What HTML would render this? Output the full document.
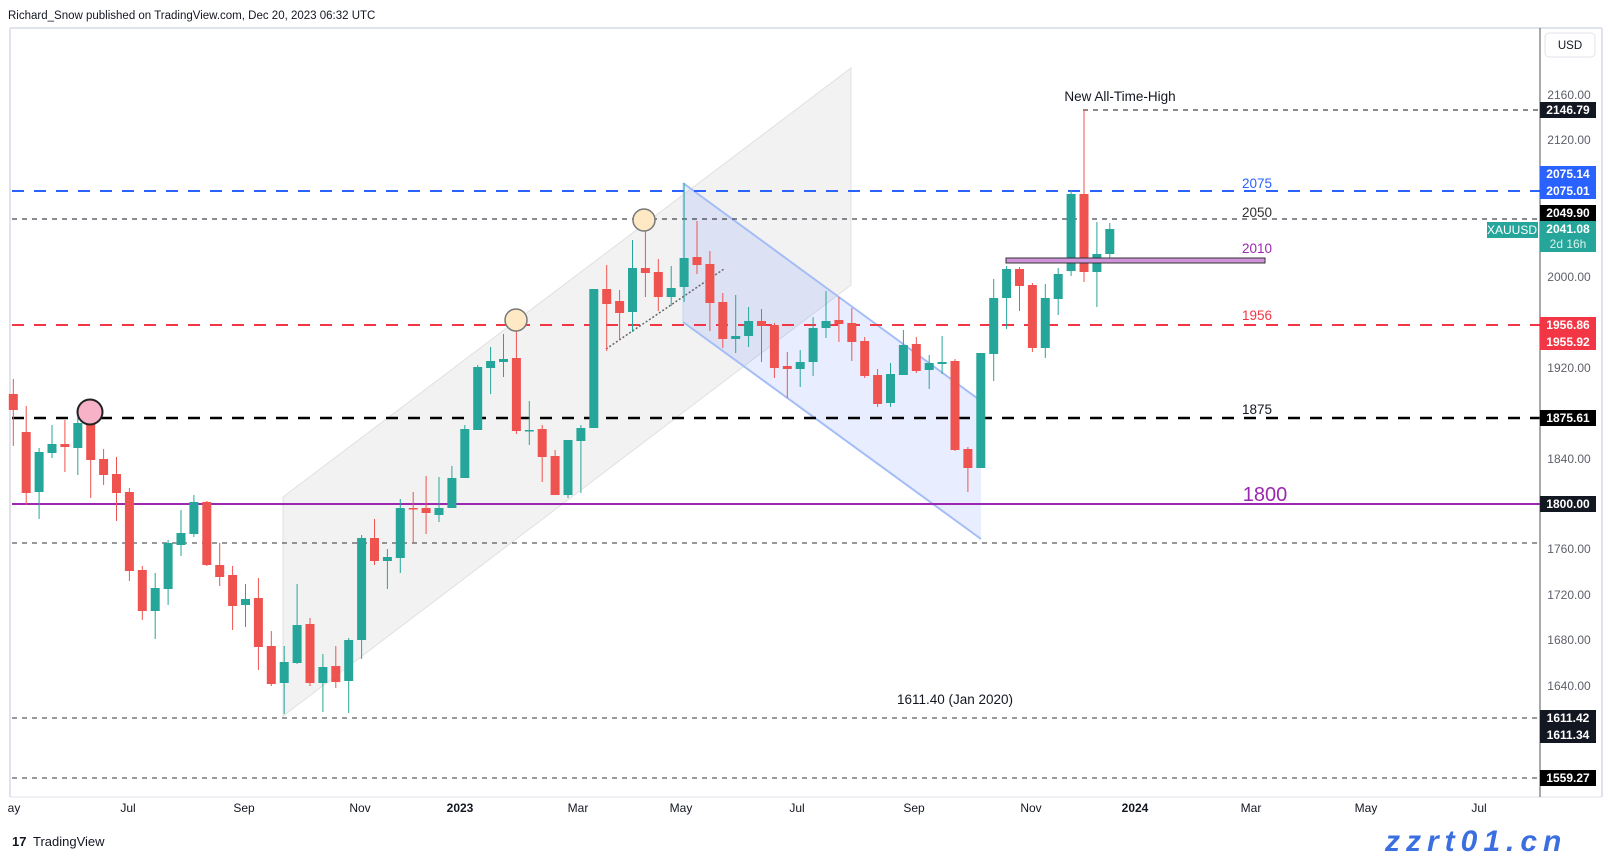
<!DOCTYPE html>
<html><head><meta charset="utf-8"><style>
html,body{margin:0;padding:0;background:#fff;}
svg{display:block;font-family:"Liberation Sans",sans-serif;}
</style></head><body>
<svg id="c" width="1610" height="857" viewBox="0 0 1610 857" xmlns="http://www.w3.org/2000/svg">
<rect width="1610" height="857" fill="#fff"/>
<text x="8" y="19" font-size="11.5" fill="#131722">Richard_Snow published on TradingView.com, Dec 20, 2023 06:32 UTC</text>
<line x1="10" y1="28" x2="1602" y2="28" stroke="#e0e3eb" stroke-width="2"/>
<line x1="10" y1="28" x2="10" y2="797" stroke="#e0e3eb" stroke-width="2"/>
<line x1="1602" y1="28" x2="1602" y2="797" stroke="#e0e3eb" stroke-width="2"/>
<line x1="10" y1="797" x2="1602" y2="797" stroke="#e0e3eb" stroke-width="1"/>
<!-- channels -->
<polygon points="283,497 851,68 851,285 283,716" fill="#f2f2f2" stroke="#e0e0e0" stroke-width="1"/>
<polygon points="683,183 981,401 981,539 683,322" fill="rgba(41,98,255,0.11)"/>
<line x1="683" y1="183" x2="981" y2="401" stroke="#a4bdf7" stroke-width="2"/>
<line x1="683" y1="322" x2="981" y2="539" stroke="#a4bdf7" stroke-width="2"/>
<line x1="683" y1="183" x2="683" y2="322" stroke="#c7d4f8" stroke-width="1"/>
<!-- levels -->
<line x1="1083" y1="110" x2="1540" y2="110" stroke="#131722" stroke-dasharray="5,5"/>
<line x1="12" y1="191" x2="1540" y2="191" stroke="#2962ff" stroke-width="2" stroke-dasharray="12,10"/>
<line x1="12" y1="219" x2="1540" y2="219" stroke="#131722" stroke-dasharray="5,5"/>
<line x1="12" y1="325" x2="1540" y2="325" stroke="#f23645" stroke-width="2" stroke-dasharray="12,10"/>
<line x1="12" y1="418" x2="1540" y2="418" stroke="#000" stroke-width="2.5" stroke-dasharray="12,10"/>
<line x1="12" y1="504" x2="1540" y2="504" stroke="#9c27b0" stroke-width="2"/>
<line x1="12" y1="543" x2="1540" y2="543" stroke="#333" stroke-dasharray="5,5"/>
<line x1="12" y1="718" x2="1540" y2="718" stroke="#333" stroke-dasharray="5,5"/>
<line x1="12" y1="778" x2="1540" y2="778" stroke="#333" stroke-dasharray="5,5"/>
<line x1="606" y1="349" x2="724" y2="269" stroke="#666" stroke-width="1.5" stroke-dasharray="2,2"/>
<g id="candles"></g>
<rect x="1006" y="258" width="259" height="5" fill="#ce93d8" stroke="#333" stroke-width="1"/>
<circle cx="90" cy="412" r="12.5" fill="#f8b2c8" stroke="#222" stroke-width="2"/>
<circle cx="516" cy="320" r="11" fill="#ffe9c4" stroke="#777" stroke-width="1.5"/>
<circle cx="644" cy="220" r="11" fill="#ffe9c4" stroke="#777" stroke-width="1.5"/>
<!-- labels -->
<text x="1120" y="101" font-size="13.5" fill="#131722" text-anchor="middle">New All-Time-High</text>
<text x="1257" y="188" font-size="13.5" fill="#2962ff" text-anchor="middle">2075</text>
<text x="1257" y="217" font-size="13.5" fill="#333" text-anchor="middle">2050</text>
<text x="1257" y="253" font-size="13.5" fill="#9c27b0" text-anchor="middle">2010</text>
<text x="1257" y="320" font-size="13.5" fill="#f23645" text-anchor="middle">1956</text>
<text x="1257" y="414" font-size="13.5" fill="#131722" text-anchor="middle">1875</text>
<text x="1265" y="501" font-size="20" fill="#9c27b0" text-anchor="middle">1800</text>
<text x="955" y="704" font-size="13.5" fill="#131722" text-anchor="middle">1611.40 (Jan 2020)</text>
<!-- price axis -->
<line x1="1540" y1="28" x2="1540" y2="797" stroke="#555" stroke-width="1"/>
<rect x="1545" y="33" width="50" height="24" rx="4" fill="#fff" stroke="#e0e3eb"/>
<text x="1570" y="49" font-size="11.5" fill="#131722" text-anchor="middle">USD</text>
<g font-size="12" fill="#5d606b" text-anchor="middle">
<text x="1569" y="99">2160.00</text><text x="1569" y="144">2120.00</text><text x="1569" y="281">2000.00</text>
<text x="1569" y="372">1920.00</text><text x="1569" y="463">1840.00</text><text x="1569" y="553">1760.00</text>
<text x="1569" y="599">1720.00</text><text x="1569" y="644">1680.00</text><text x="1569" y="690">1640.00</text>
</g>
<g font-size="12" fill="#fff" text-anchor="middle" font-weight="bold">
<rect x="1540" y="102" width="56" height="16" fill="#131722"/><text x="1568" y="114">2146.79</text>
<rect x="1540" y="166" width="56" height="33" fill="#2962ff"/><text x="1568" y="178">2075.14</text><text x="1568" y="195">2075.01</text>
<rect x="1540" y="205" width="56" height="16" fill="#000"/><text x="1568" y="217">2049.90</text>
<rect x="1540" y="221" width="56" height="31" fill="#26a69a"/><text x="1568" y="233">2041.08</text>
<text x="1568" y="248" font-weight="normal" fill="#d8f2ef">2d 16h</text>
<rect x="1487" y="222" width="51" height="16" fill="#26a69a"/><text x="1512" y="234" font-weight="normal">XAUUSD</text>
<rect x="1540" y="317" width="56" height="33" fill="#f23645"/><text x="1568" y="329">1956.86</text><text x="1568" y="346">1955.92</text>
<rect x="1540" y="410" width="56" height="16" fill="#000"/><text x="1568" y="422">1875.61</text>
<rect x="1540" y="496" width="56" height="16" fill="#131722"/><text x="1568" y="508">1800.00</text>
<rect x="1540" y="710" width="56" height="33" fill="#131722"/><text x="1568" y="722">1611.42</text><text x="1568" y="739">1611.34</text>
<rect x="1540" y="770" width="56" height="16" fill="#000"/><text x="1568" y="782">1559.27</text>
</g>
<!-- time axis -->
<g font-size="12" fill="#131722" text-anchor="middle">
<text x="14" y="812">ay</text><text x="128" y="812">Jul</text><text x="244" y="812">Sep</text><text x="360" y="812">Nov</text>
<text x="460" y="812" font-weight="bold">2023</text><text x="578" y="812">Mar</text><text x="681" y="812">May</text>
<text x="797" y="812">Jul</text><text x="914" y="812">Sep</text><text x="1031" y="812">Nov</text>
<text x="1135" y="812" font-weight="bold">2024</text><text x="1251" y="812">Mar</text><text x="1366" y="812">May</text><text x="1479" y="812">Jul</text>
</g>
<text x="12" y="846" font-size="13" font-weight="bold" fill="#131722">17</text>
<text x="33" y="846" font-size="13" fill="#131722">TradingView</text>
<text x="1385" y="851" font-size="30" font-weight="bold" font-style="italic" fill="#3b6fe0" letter-spacing="6">zzrt01.cn</text>
</svg>
<script>
var d=[[394,410,379,446],[432,493,406,505],[492,452,448,519],[453,444,425,458],[444,447,420,472],[448,423,417,475],[423,460,413,498],[459,475,449,485],[474,493,457,521],[492,571,488,581],
[570,611,566,620],[611,588,573,639],[589,543,540,605],[545,533,510,556],[534,502,495,537],[502,565,501,566],[565,577,543,586],[575,606,566,630],[605,599,584,627],[598,647,578,670],
[646,684,631,686],[683,662,646,714],[663,625,584,664],[624,683,618,686],[683,667,654,712],[666,682,646,688],[681,640,638,713],
[640,538,535,659],[538,561,519,565],[561,557,549,589],[558,508,499,573],[508,509,492,543],[508,513,476,534],[515,508,477,522],[508,478,466,508],[478,429,425,478],
[430,367,365,430],[368,361,347,394],[362,359,334,377],[358,431,322,434],[431,430,401,445],[429,457,425,482],[456,495,450,495],[495,440,440,498],[441,428,425,493],[428,289,289,428],
[289,304,265,351],[301,313,290,340],
[312,268,240,332],[268,273,221,297],
[272,297,259,311],[297,288,266,306],[287,258,183,302],[257,265,221,274],[264,303,251,331],[302,339,293,348],[339,336,295,353],[336,321,307,347],[321,326,309,362],[325,368,323,378],
[366,369,352,398],[369,362,350,387],[362,328,317,376],[328,321,291,338],[320,324,297,342],[323,342,308,361],[341,376,337,378],[375,404,369,407],[403,374,363,407],[375,345,330,375],
[344,371,337,373],[370,363,355,389],[364,362,336,374],[361,450,359,451],[449,468,447,492],[468,353,353,468],[354,298,279,381],[298,269,266,329],[269,286,267,311],[285,348,283,352],
[348,298,284,358],[299,274,268,315],[271,194,190,276],[194,272,109,282],[272,254,222,307],[254,229,223,258]];
var g=document.getElementById('candles'),s='';
for(var i=0;i<d.length;i++){var x=13.3+12.9*i,o=d[i][0],c=d[i][1],h=d[i][2],l=d[i][3];
var col=c<o?'#26a69a':'#ef5350';if(c==o)col='#26a69a';
var t=Math.min(o,c),b=Math.max(o,c);if(b-t<1.5)b=t+1.5;
s+='<line x1="'+x+'" y1="'+h+'" x2="'+x+'" y2="'+l+'" stroke="'+col+'" stroke-width="1"/>';
s+='<rect x="'+(x-4.5)+'" y="'+t+'" width="9" height="'+(b-t)+'" fill="'+col+'"/>';}
g.innerHTML=s;
</script>
</body></html>
